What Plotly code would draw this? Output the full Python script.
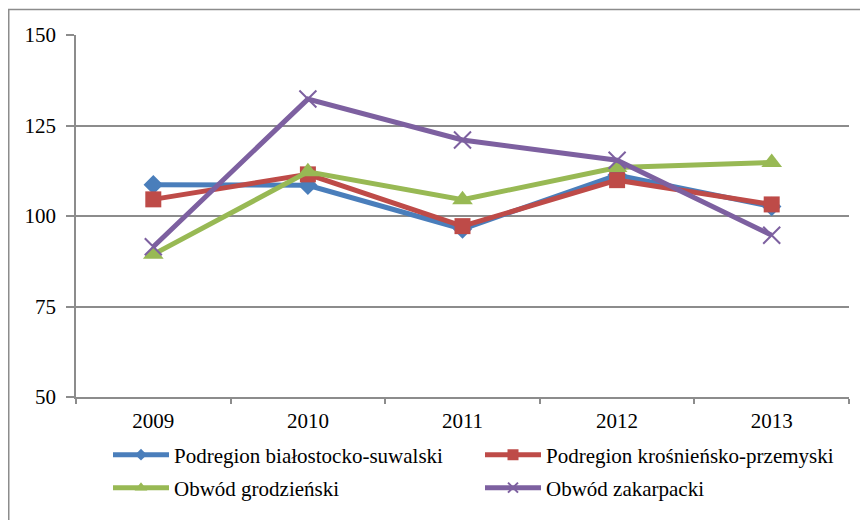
import plotly.graph_objects as go

years = ["2009", "2010", "2011", "2012", "2013"]
bialostocko = [108.6, 108.5, 96.4, 111.3, 102.6]
krosnienko = [104.6, 111.5, 97.2, 109.9, 103.2]
grodzienski = [89.4, 112.2, 104.5, 113.4, 114.8]
zakarpacki = [91.5, 132.3, 121.0, 115.4, 94.7]

names = ["Podregion białostocko-suwalski", "Podregion krośnieńsko-przemyski",
         "Obwód grodzieński", "Obwód zakarpacki"]
colors = ["#4A7EBB", "#BE4B48", "#98B954", "#7D60A0"]
symbols = ["diamond", "square", "triangle-up", "x-thin"]
sizes = [15, 16, 18, 17]
legend_sizes = [9, 11, 11, 10]
legends = ["legend", "legend2", "legend3", "legend4"]
series = [bialostocko, krosnienko, grodzienski, zakarpacki]

# the page body has an 8px margin; figure coordinates = screen coordinates - 8
OFF = 8
W, H = 868 - OFF, 520 - OFF
L, R, T, B = 76 - OFF, 849 - OFF, 35 - OFF, 397 - OFF
pw, ph = R - L, B - T

def px(x):
    return (x - OFF - L) / pw

def py(y):
    return (B - (y - OFF)) / ph

fig = go.Figure()
for name, vals, c, s, sz, lsz, lg in zip(names, series, colors, symbols, sizes, legend_sizes, legends):
    marker = dict(symbol=s, size=sz, color=c)
    if s == "x-thin":
        marker["line"] = dict(color=c, width=2)
    fig.add_trace(go.Scatter(
        x=years, y=vals, name=name, mode="lines+markers",
        line=dict(color=c, width=5), marker=marker, showlegend=False,
    ))
    lmarker = dict(symbol=s, size=lsz, color=c)
    if s == "x-thin":
        lmarker["line"] = dict(color=c, width=2)
    # legend-only entry (no data) so the legend symbol can use a smaller marker
    fig.add_trace(go.Scatter(
        x=[None], y=[None], name=name, mode="lines+markers",
        line=dict(color=c, width=5), marker=lmarker, legend=lg, showlegend=True,
    ))

font = "Liberation Serif, Times New Roman, serif"
grid = "#8C8C8C"

def leg(xs, ys):
    return dict(orientation="h", x=px(xs), xanchor="left", y=py(ys), yanchor="middle",
                font=dict(family=font, size=21, color="black"), itemwidth=56,
                bgcolor="rgba(0,0,0,0)", borderwidth=0)

fig.update_layout(
    width=W, height=H,
    margin=dict(l=L, r=W - R, t=T, b=H - B, pad=0),
    paper_bgcolor="white", plot_bgcolor="white",
    font=dict(family=font, size=21, color="black"),
    showlegend=True,
    legend=leg(108, 455),
    legend2=leg(480, 455),
    legend3=leg(108, 488),
    legend4=leg(480, 488),
    xaxis=dict(
        type="category", range=[-0.5, 4.5], showgrid=False,
        showline=True, linecolor=grid, linewidth=1.5,
        ticks="outside", tickson="boundaries", ticklen=5, tickcolor=grid, tickwidth=1.5,
        tickfont=dict(family=font, size=21, color="black"), ticklabelstandoff=4,
    ),
    yaxis=dict(
        range=[50, 150], tickvals=[50, 75, 100, 125, 150],
        showgrid=True, gridcolor=grid, gridwidth=1.5, zeroline=False,
        showline=True, linecolor=grid, linewidth=1.5,
        ticks="outside", ticklen=8, tickcolor=grid, tickwidth=1.5,
        tickfont=dict(family=font, size=21, color="black"), ticklabelstandoff=6,
    ),
    shapes=[dict(type="rect", xref="paper", yref="paper",
                 x0=px(8.75), x1=px(900), y0=py(560), y1=py(9.5),
                 line=dict(color=grid, width=1.5), fillcolor="rgba(0,0,0,0)", layer="below")],
)

fig.write_html("out.html")
